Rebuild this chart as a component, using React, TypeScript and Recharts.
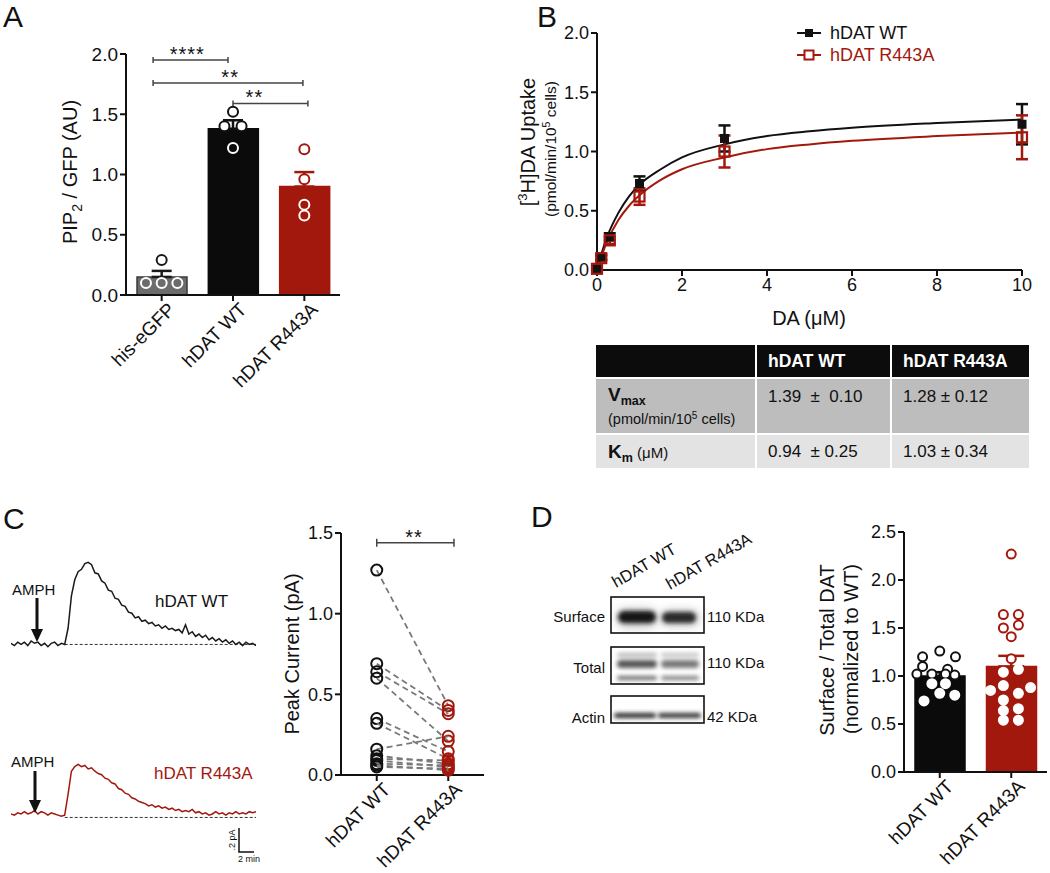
import React from "react";
import {
  ComposedChart,
  LineChart,
  ScatterChart,
  Bar,
  Cell,
  Line,
  Scatter,
  ErrorBar,
  XAxis,
  YAxis,
  ReferenceLine,
} from "recharts";

const FONT = "'Liberation Sans', Arial, Helvetica, sans-serif";
const INK = "#111111";
const RED = "#a3180d";

// Panel A: PIP2 / GFP
const A_GROUPS = ["his-eGFP", "hDAT WT", "hDAT R443A"];
const A_MEAN = [0.15, 1.38, 0.9];
const A_SEM = [0.05, 0.07, 0.12];
const A_EGFP = [0.29, 0.1, 0.1, 0.1];
const A_WT = [1.52, 1.4, 1.4, 1.22];
const A_R443A = [1.21, 0.96, 0.75, 0.66];

// Panel B: uptake kinetics
const B_DA = [0, 0.1, 0.3, 1, 3, 10];
const B_WT = [0.01, 0.11, 0.28, 0.73, 1.11, 1.23];
const B_WT_SEM = [0.01, 0.02, 0.03, 0.06, 0.11, 0.17];
const B_R443A = [0.01, 0.1, 0.25, 0.62, 1.0, 1.12];
const B_R443A_SEM = [0.01, 0.02, 0.03, 0.07, 0.135, 0.185];
const B_FIT_X = [0, 0.1, 0.25, 0.5, 0.75, 1, 1.5, 2, 3, 4, 5, 6, 8, 10];
const B_FIT_WT = [0, 0.13, 0.29, 0.48, 0.62, 0.72, 0.85, 0.95, 1.06, 1.13, 1.17, 1.2, 1.24, 1.27];
const B_FIT_R443A = [0, 0.11, 0.25, 0.42, 0.54, 0.63, 0.76, 0.85, 0.95, 1.02, 1.06, 1.09, 1.13, 1.16];

// kinetics table
const T_HEAD = ["hDAT WT", "hDAT R443A"];
const T_VMAX = ["1.39  ±  0.10", "1.28 ± 0.12"];
const T_KM = ["0.94  ± 0.25", "1.03 ± 0.34"];

// Panel C: AMPH-induced currents
const C_GROUPS = ["hDAT WT", "hDAT R443A"];
const C_WT = [1.27, 0.69, 0.64, 0.6, 0.35, 0.32, 0.16, 0.12, 0.1, 0.09, 0.07, 0.06, 0.05];
const C_R443A = [0.43, 0.4, 0.38, 0.21, 0.145, 0.1, 0.24, 0.07, 0.09, 0.05, 0.06, 0.03, 0.04];
const TRACE_WT = [
  0.01, -0.01, 0.02, 0.0, 0.02, -0.01, 0.03, 0.01, 0.02, -0.01, 0.01, -0.02, 0.01, 0.02, -0.01, 0.01, 0.0,
  0.14, 0.42, 0.56, 0.63, 0.65, 0.7, 0.71, 0.69, 0.62, 0.61, 0.55, 0.53, 0.47, 0.46, 0.4, 0.39, 0.34, 0.33,
  0.28, 0.27, 0.23, 0.24, 0.2, 0.21, 0.18, 0.19, 0.16, 0.17, 0.14, 0.16, 0.13, 0.14, 0.12, 0.13, 0.1, 0.17,
  0.09, 0.11, 0.07, 0.09, 0.06, 0.08, 0.04, 0.06, 0.03, 0.05, 0.02, 0.04, 0.01, 0.03, 0.0, 0.02, -0.01,
  0.02, 0.0, 0.01, -0.01,
];
const TRACE_R443A = [
  0.03, 0.02, 0.04, 0.03, 0.05, 0.03, 0.04, 0.06, 0.03, 0.05, 0.04, 0.02, 0.04, 0.03, 0.02, 0.01, 0.02,
  0.2, 0.4, 0.44, 0.46, 0.44, 0.45, 0.42, 0.43, 0.4, 0.38, 0.37, 0.34, 0.33, 0.3, 0.29, 0.25, 0.24, 0.21,
  0.2, 0.17, 0.16, 0.14, 0.13, 0.12, 0.1, 0.11, 0.09, 0.1, 0.08, 0.09, 0.07, 0.08, 0.06, 0.07, 0.05, 0.06,
  0.05, 0.07, 0.04, 0.05, 0.03, 0.04, 0.02, 0.03, 0.05, 0.03, 0.04, 0.02, 0.04, 0.03, 0.05, 0.03, 0.04,
  0.03, 0.05, 0.04, 0.05,
];

// Panel D: surface / total DAT
const D_GROUPS = ["hDAT WT", "hDAT R443A"];
const D_MEAN = [1.0, 1.1];
const D_SEM = [0.04, 0.11];
const D_WT = [1.26, 1.2, 1.2, 1.1, 1.07, 1.02, 1.02, 1.02, 1.01, 0.92, 0.92, 0.82, 0.8, 0.74];
const D_R443A = [2.27, 1.64, 1.64, 1.5, 1.53, 1.41, 1.18, 1.04, 1.07, 0.85, 0.88, 0.9, 0.82, 0.75, 0.64, 0.66, 0.54, 0.54];

// horizontal scatter of the dots (fraction of a category band)
const A_JITTER = [[0, -0.22, 0, 0.22], [0, -0.12, 0.12, 0], [0, 0, 0, 0]];
const D_JITTER = [
  [0, -0.24, 0.22, -0.24, 0.11, -0.32, -0.11, 0.08, 0.21, -0.11, 0.08, 0, 0.21, -0.22],
  [0, -0.11, 0.1, -0.11, 0.1, 0, 0, -0.11, 0.1, -0.29, 0.27, -0.11, 0.1, -0.11, -0.11, 0.1, -0.11, 0.1],
];

const f1 = (v: number) => v.toFixed(1);
const axisLine = { stroke: INK, strokeWidth: 2 };
const tickLine = { stroke: INK, strokeWidth: 2 };
const Blank = () => <g />;

function RotTick(props: any) {
  const { x, y, payload, names } = props;
  const label = names ? names[payload.value] : payload.value;
  const ax = x + 5;
  const ay = y - 2;
  return (
    <text x={ax} y={ay} dy="0.72em" textAnchor="end" fontSize={19} fill={INK} transform={`rotate(-45 ${ax} ${ay})`}>
      {label}
    </text>
  );
}

function starShape(label: string) {
  return (s: any) => (
    <text x={s.cx} y={s.cy + 1} textAnchor="middle" fontSize={20} fill={INK} letterSpacing={1}>
      {label}
    </text>
  );
}

function bracket(key: string, x1: number, x2: number, y: number, lx: number, label: string, xAxisId?: string) {
  const ax = xAxisId ? { xAxisId } : {};
  const st = { stroke: "#444", strokeWidth: 1.5, ifOverflow: "visible" as const };
  return [
    <ReferenceLine key={key + "h"} {...ax} {...st} segment={[{ x: x1, y }, { x: x2, y }]} />,
    <ReferenceLine key={key + "l"} {...ax} {...st} segment={[{ x: x1, y: y - 0.025 }, { x: x1, y: y + 0.025 }]} />,
    <ReferenceLine key={key + "r"} {...ax} {...st} segment={[{ x: x2, y: y - 0.025 }, { x: x2, y: y + 0.025 }]} />,
    <Scatter key={key + "t"} {...ax} data={[{ x: lx, y }]} dataKey="y" shape={starShape(label)} isAnimationActive={false} />,
  ];
}

function BarDots(p: any) {
  const n = p.groups.length;
  const barData = p.groups.map((g: any) => ({ name: g.name, mean: g.mean }));
  return (
    <div style={{ position: "absolute", left: p.left, top: p.top }}>
      <ComposedChart width={p.width} height={p.height} data={barData} margin={p.margin}>
        <XAxis
          xAxisId="cat"
          dataKey="name"
          height={p.xHeight}
          interval={0}
          axisLine={axisLine}
          tickLine={tickLine}
          tickSize={6}
          tick={<RotTick />}
        />
        <XAxis xAxisId="num" type="number" dataKey="x" domain={[-0.5, n - 0.5]} hide allowDataOverflow />
        <YAxis
          type="number"
          width={p.yWidth}
          domain={[0, p.yTicks[p.yTicks.length - 1]]}
          ticks={p.yTicks}
          tickFormatter={f1}
          axisLine={axisLine}
          tickLine={tickLine}
          tickSize={6}
          tick={{ fill: INK, fontSize: p.tickFont }}
        />
        <Bar xAxisId="cat" dataKey="mean" barSize={50} isAnimationActive={false}>
          {p.groups.map((g: any, i: number) => (
            <Cell key={i} fill={g.fill} stroke={g.edge} strokeWidth={1.5} />
          ))}
        </Bar>
        {p.groups.map((g: any, i: number) => (
          <Scatter
            key={"e" + i}
            xAxisId="num"
            data={[{ x: i, y: g.mean, err: [0, g.sem] }]}
            dataKey="y"
            shape={Blank}
            isAnimationActive={false}
          >
            <ErrorBar dataKey="err" direction="y" width={p.capHalf} stroke={g.accent} strokeWidth={2.5} />
          </Scatter>
        ))}
        {p.groups.map((g: any, i: number) => (
          <Scatter
            key={"d" + i}
            xAxisId="num"
            data={g.points.map((v: number, j: number) => ({ x: i + g.jitter[j], y: v }))}
            dataKey="y"
            isAnimationActive={false}
            shape={(s: any) => {
              const inside = s.payload.y < g.mean;
              return (
                <circle
                  cx={s.cx}
                  cy={s.cy}
                  r={p.dotR}
                  fill={inside ? p.insideFill : "#fff"}
                  stroke={inside ? "#fff" : g.accent}
                  strokeWidth={2}
                />
              );
            }}
          />
        ))}
        {p.extras}
      </ComposedChart>
    </div>
  );
}

function PanelA() {
  const fills = ["#6c6c6c", "#0b0b0b", RED];
  const edges = ["#3a3a3a", "#0b0b0b", RED];
  const accents = ["#1a1a1a", INK, RED];
  const pts = [A_EGFP, A_WT, A_R443A];
  const groups = A_GROUPS.map((name, i) => ({
    name,
    mean: A_MEAN[i],
    sem: A_SEM[i],
    points: pts[i],
    jitter: A_JITTER[i],
    fill: fills[i],
    edge: edges[i],
    accent: accents[i],
  }));
  const extras = [
    ...bracket("b1", -0.12, 0.93, 1.95, 0.36, "****", "num"),
    ...bracket("b2", -0.12, 1.98, 1.76, 0.96, "**", "num"),
    ...bracket("b3", 1.0, 2.05, 1.59, 1.3, "**", "num"),
  ];
  return (
    <BarDots
      left={0}
      top={0}
      width={345}
      height={390}
      margin={{ top: 54, right: 5, left: 0, bottom: 0 }}
      yWidth={126}
      xHeight={95}
      yTicks={[0, 0.5, 1, 1.5, 2]}
      tickFont={19}
      dotR={5}
      capHalf={10}
      insideFill="none"
      groups={groups}
      extras={extras}
    />
  );
}

function PanelD() {
  const fills = ["#0b0b0b", RED];
  const pts = [D_WT, D_R443A];
  const groups = D_GROUPS.map((name, i) => ({
    name,
    mean: D_MEAN[i],
    sem: D_SEM[i],
    points: pts[i],
    jitter: D_JITTER[i],
    fill: fills[i],
    edge: fills[i],
    accent: i === 0 ? INK : RED,
  }));
  return (
    <BarDots
      left={780}
      top={500}
      width={270}
      height={370}
      margin={{ top: 32, right: 3, left: 0, bottom: 0 }}
      yWidth={124}
      xHeight={98}
      yTicks={[0, 0.5, 1, 1.5, 2, 2.5]}
      tickFont={18}
      dotR={4.5}
      capHalf={13}
      insideFill="#fff"
      groups={groups}
      extras={[]}
    />
  );
}

function PanelB() {
  const wt = B_DA.map((x, i) => ({ x, y: B_WT[i], err: B_WT_SEM[i] }));
  const mu = B_DA.map((x, i) => ({ x, y: B_R443A[i], err: B_R443A_SEM[i] }));
  const fitWt = B_FIT_X.map((x, i) => ({ x, y: B_FIT_WT[i] }));
  const fitMu = B_FIT_X.map((x, i) => ({ x, y: B_FIT_R443A[i] }));
  return (
    <div style={{ position: "absolute", left: 520, top: 0 }}>
      <ComposedChart width={520} height={330} margin={{ top: 33, right: 18, left: 0, bottom: 0 }}>
        <XAxis
          type="number"
          dataKey="x"
          domain={[0, 10]}
          ticks={[0, 2, 4, 6, 8, 10]}
          height={60}
          axisLine={axisLine}
          tickLine={tickLine}
          tickSize={6}
          tick={{ fill: INK, fontSize: 18 }}
        />
        <YAxis
          type="number"
          domain={[0, 2]}
          ticks={[0, 0.5, 1, 1.5, 2]}
          tickFormatter={f1}
          width={77}
          axisLine={axisLine}
          tickLine={tickLine}
          tickSize={6}
          tick={{ fill: INK, fontSize: 18 }}
        />
        <Line data={fitWt} dataKey="y" type="monotone" stroke={INK} strokeWidth={2} dot={false} isAnimationActive={false} />
        <Line data={fitMu} dataKey="y" type="monotone" stroke={RED} strokeWidth={2} dot={false} isAnimationActive={false} />
        <Scatter
          data={wt}
          dataKey="y"
          isAnimationActive={false}
          shape={(s: any) => <rect x={s.cx - 4.5} y={s.cy - 4.5} width={9} height={9} fill={INK} />}
        >
          <ErrorBar dataKey="err" direction="y" width={6} stroke={INK} strokeWidth={2.5} />
        </Scatter>
        <Scatter
          data={mu}
          dataKey="y"
          isAnimationActive={false}
          shape={(s: any) => (
            <rect x={s.cx - 5} y={s.cy - 5} width={10} height={10} fill="none" stroke={RED} strokeWidth={2.2} />
          )}
        >
          <ErrorBar dataKey="err" direction="y" width={6} stroke={RED} strokeWidth={2.5} />
        </Scatter>
      </ComposedChart>
    </div>
  );
}

function KineticsTable() {
  const colX = [596, 757, 892];
  const colW = [159, 133, 137];
  const rowY = [345, 379, 435];
  const rowH = [32, 54, 33];
  const bg = ["#0c0c0c", "#bdbdbd", "#e3e3e3"];
  const cell = (r: number, c: number, content: React.ReactNode, extra: any = {}) => (
    <div
      key={r + "-" + c}
      style={{
        position: "absolute",
        left: colX[c],
        top: rowY[r],
        width: colW[c],
        height: rowH[r],
        background: bg[r],
        boxSizing: "border-box",
        paddingLeft: c === 0 ? 12 : 11,
        display: "flex",
        whiteSpace: "pre",
        ...extra,
      }}
    >
      {content}
    </div>
  );
  const center = { alignItems: "center" };
  return (
    <div style={{ fontFamily: FONT, color: INK }}>
      {cell(0, 0, null)}
      {T_HEAD.map((h, i) =>
        cell(0, i + 1, <span style={{ color: "#fff", fontWeight: 700, fontSize: 17.5 }}>{h}</span>, center)
      )}
      {cell(
        1,
        0,
        <div style={{ paddingTop: 6 }}>
          <div style={{ fontSize: 19, fontWeight: 700, lineHeight: "20px" }}>
            V<span style={{ fontSize: 12.5, position: "relative", top: 4 }}>max</span>
          </div>
          <div style={{ fontSize: 14.5, lineHeight: "16px", marginTop: 4 }}>
            (pmol/min/10<span style={{ fontSize: 10, position: "relative", top: -5 }}>5</span> cells)
          </div>
        </div>
      )}
      {T_VMAX.map((v, i) =>
        cell(1, i + 1, <div style={{ fontSize: 17, lineHeight: "20px", paddingTop: 8 }}>{v}</div>)
      )}
      {cell(
        2,
        0,
        <span>
          <span style={{ fontSize: 19, fontWeight: 700 }}>K</span>
          <span style={{ fontSize: 12.5, fontWeight: 700, position: "relative", top: 4 }}>m</span>
          <span style={{ fontSize: 15 }}> (μM)</span>
        </span>,
        center
      )}
      {T_KM.map((v, i) => cell(2, i + 1, <span style={{ fontSize: 17 }}>{v}</span>, center))}
    </div>
  );
}

function Trace({ values, top, color }: { values: number[]; top: number; color: string }) {
  const data = values.map((v, i) => ({ i, v }));
  return (
    <div style={{ position: "absolute", left: 11, top }}>
      <LineChart width={245} height={104} data={data} margin={{ top: 0, right: 0, left: 0, bottom: 0 }}>
        <XAxis type="number" dataKey="i" domain={[0, values.length - 1]} hide />
        <YAxis type="number" domain={[-0.1, 0.8]} hide />
        <ReferenceLine
          segment={[{ x: 16, y: 0 }, { x: values.length - 1, y: 0 }]}
          stroke="#333"
          strokeWidth={1}
          strokeDasharray="3 2"
        />
        <Line dataKey="v" type="linear" stroke={color} strokeWidth={1.5} dot={false} isAnimationActive={false} />
      </LineChart>
    </div>
  );
}

function PanelCPeak() {
  const pairs = C_WT.map((w, k) => [
    { x: 0, y: w },
    { x: 1, y: C_R443A[k] },
  ]);
  return (
    <div style={{ position: "absolute", left: 280, top: 500 }}>
      <ScatterChart width={215} height={373} margin={{ top: 33, right: 11, left: 0, bottom: 0 }}>
        <XAxis
          type="number"
          dataKey="x"
          domain={[-0.5, 1.5]}
          ticks={[0, 1]}
          height={98}
          interval={0}
          axisLine={axisLine}
          tickLine={tickLine}
          tickSize={6}
          tick={<RotTick names={C_GROUPS} />}
        />
        <YAxis
          type="number"
          dataKey="y"
          domain={[0, 1.5]}
          ticks={[0, 0.5, 1, 1.5]}
          tickFormatter={f1}
          width={61}
          axisLine={axisLine}
          tickLine={tickLine}
          tickSize={6}
          tick={{ fill: INK, fontSize: 18 }}
        />
        {pairs.map((d, k) => (
          <Scatter
            key={k}
            data={d}
            line={{ stroke: "#7a7a7a", strokeWidth: 1.8, strokeDasharray: "6 4" }}
            lineType="joint"
            isAnimationActive={false}
            shape={(s: any) => (
              <circle cx={s.cx} cy={s.cy} r={5.5} fill="none" stroke={s.payload.x === 0 ? INK : RED} strokeWidth={2} />
            )}
          />
        ))}
        {bracket("c1", 0, 1.08, 1.44, 0.52, "**")}
      </ScatterChart>
    </div>
  );
}

function Blot() {
  const band = (x: number, y: number, w: number, h: number, c: string, blur = "b2") => (
    <rect x={x} y={y} width={w} height={h} rx={h / 2} fill={c} filter={`url(#${blur})`} />
  );
  return (
    <svg width={260} height={230} style={{ position: "absolute", left: 530, top: 500, fontFamily: FONT }}>
      <defs>
        <filter id="b2" x="-20%" y="-100%" width="140%" height="300%">
          <feGaussianBlur stdDeviation="2" />
        </filter>
        <filter id="b4" x="-20%" y="-100%" width="140%" height="300%">
          <feGaussianBlur stdDeviation="4" />
        </filter>
        <clipPath id="cs"><rect x={81} y={97} width={93} height={36} /></clipPath>
        <clipPath id="ct"><rect x={81} y={147} width={93} height={37} /></clipPath>
        <clipPath id="ca"><rect x={81} y={196} width={93} height={27} /></clipPath>
      </defs>
      <text x={86} y={88} fontSize={16.5} fill={INK} transform="rotate(-30 86 88)">hDAT WT</text>
      <text x={140} y={90} fontSize={16.5} fill={INK} transform="rotate(-30 140 90)">hDAT R443A</text>

      <g clipPath="url(#cs)">
        {band(86, 108, 42, 20, "#c8c8c8", "b4")}
        {band(130, 109, 40, 18, "#d0d0d0", "b4")}
        {band(88, 111, 38, 12, "#161616")}
        {band(132, 112, 34, 11, "#2a2a2a")}
      </g>
      <rect x={81} y={97} width={93} height={36} fill="none" stroke={INK} strokeWidth={1.6} />

      <g clipPath="url(#ct)">
        {band(87, 153, 40, 4, "#b5b5b5")}
        {band(131, 153, 38, 4, "#c2c2c2")}
        {band(87, 160, 40, 8, "#555")}
        {band(131, 160, 38, 8, "#777")}
        {band(87, 176, 40, 4, "#666")}
        {band(131, 176, 38, 4, "#7a7a7a")}
      </g>
      <rect x={81} y={147} width={93} height={37} fill="none" stroke={INK} strokeWidth={1.6} />

      <g clipPath="url(#ca)">
        {band(84, 213, 42, 5, "#2a2a2a", "b2")}
        {band(128, 213, 43, 5, "#333", "b2")}
      </g>
      <rect x={81} y={196} width={93} height={27} fill="none" stroke={INK} strokeWidth={1.6} />

      <g fontSize={15} fill={INK}>
        <text x={75} y={122} textAnchor="end">Surface</text>
        <text x={75} y={173} textAnchor="end">Total</text>
        <text x={75} y={223} textAnchor="end">Actin</text>
        <text x={177} y={122}>110 KDa</text>
        <text x={177} y={168}>110 KDa</text>
        <text x={177} y={222}>42 KDa</text>
      </g>
    </svg>
  );
}

function Overlay() {
  const arrow = (x: number, y1: number, y2: number) => (
    <g>
      <line x1={x} y1={y1} x2={x} y2={y2 - 10} stroke={INK} strokeWidth={3} />
      <polygon points={`${x - 6},${y2 - 13} ${x + 6},${y2 - 13} ${x},${y2}`} fill={INK} />
    </g>
  );
  return (
    <svg
      width={1050}
      height={873}
      style={{ position: "absolute", left: 0, top: 0, pointerEvents: "none", fontFamily: FONT }}
    >
      <g fontSize={30} fill={INK}>
        <text x={3} y={27}>A</text>
        <text x={537} y={27}>B</text>
        <text x={3} y={529}>C</text>
        <text x={531} y={527}>D</text>
      </g>

      <text x={77} y={172} fontSize={20} fill={INK} textAnchor="middle" transform="rotate(-90 77 172)">
        PIP<tspan fontSize={14} dy={5}>2</tspan>
        <tspan dy={-5}> / GFP (AU)</tspan>
      </text>

      <text x={535} y={142} fontSize={20} fill={INK} textAnchor="middle" transform="rotate(-90 535 142)">
        [<tspan fontSize={13} dy={-8}>3</tspan>
        <tspan dy={8}>H]DA Uptake</tspan>
      </text>
      <text x={556} y={149} fontSize={15.5} fill={INK} textAnchor="middle" transform="rotate(-90 556 149)">
        (pmol/min/10<tspan fontSize={10.5} dy={-6}>5</tspan>
        <tspan dy={6}> cells)</tspan>
      </text>
      <text x={809} y={325} fontSize={20} fill={INK} textAnchor="middle">DA (μM)</text>

      <line x1={797} y1={33} x2={821} y2={33} stroke={INK} strokeWidth={2} />
      <rect x={805} y={29} width={8} height={8} fill={INK} />
      <text x={830} y={39} fontSize={18} fill={INK}>hDAT WT</text>
      <line x1={797} y1={55} x2={821} y2={55} stroke={RED} strokeWidth={2} />
      <rect x={804.5} y={50.5} width={9} height={9} fill="#fff" stroke={RED} strokeWidth={2} />
      <text x={830} y={61} fontSize={18} fill={RED}>hDAT R443A</text>

      <text x={12} y={595} fontSize={15} fill={INK}>AMPH</text>
      {arrow(37, 598, 642)}
      <text x={155} y={607} fontSize={17} fill={INK}>hDAT WT</text>
      <text x={11} y={767} fontSize={15} fill={INK}>AMPH</text>
      {arrow(35, 771, 813)}
      <text x={154} y={779} fontSize={17} fill={RED}>hDAT R443A</text>

      <line x1={239} y1={828} x2={239} y2={852} stroke={INK} strokeWidth={1.5} />
      <line x1={238.3} y1={852} x2={254} y2={852} stroke={INK} strokeWidth={1.5} />
      <text x={235} y={840} fontSize={9} fill={INK} textAnchor="middle" transform="rotate(-90 235 840)">.2 pA</text>
      <text x={238} y={862} fontSize={9} fill={INK}>2 min</text>

      <text x={299} y={654} fontSize={20} fill={INK} textAnchor="middle" transform="rotate(-90 299 654)">
        Peak Current (pA)
      </text>

      <text x={834} y={650} fontSize={20} fill={INK} textAnchor="middle" transform="rotate(-90 834 650)">
        Surface / Total DAT
      </text>
      <text x={858} y={649} fontSize={20} fill={INK} textAnchor="middle" transform="rotate(-90 858 649)">
        (normalized to WT)
      </text>
    </svg>
  );
}

export default function App() {
  return (
    <div
      style={{
        position: "absolute",
        left: 0,
        top: 0,
        width: 1050,
        height: 873,
        background: "#fff",
        fontFamily: FONT,
        color: INK,
        overflow: "hidden",
      }}
    >
      <PanelA />
      <PanelB />
      <KineticsTable />
      <Trace values={TRACE_WT} top={552} color="#1a1a1a" />
      <Trace values={TRACE_R443A} top={725} color={RED} />
      <PanelCPeak />
      <Blot />
      <PanelD />
      <Overlay />
    </div>
  );
}
